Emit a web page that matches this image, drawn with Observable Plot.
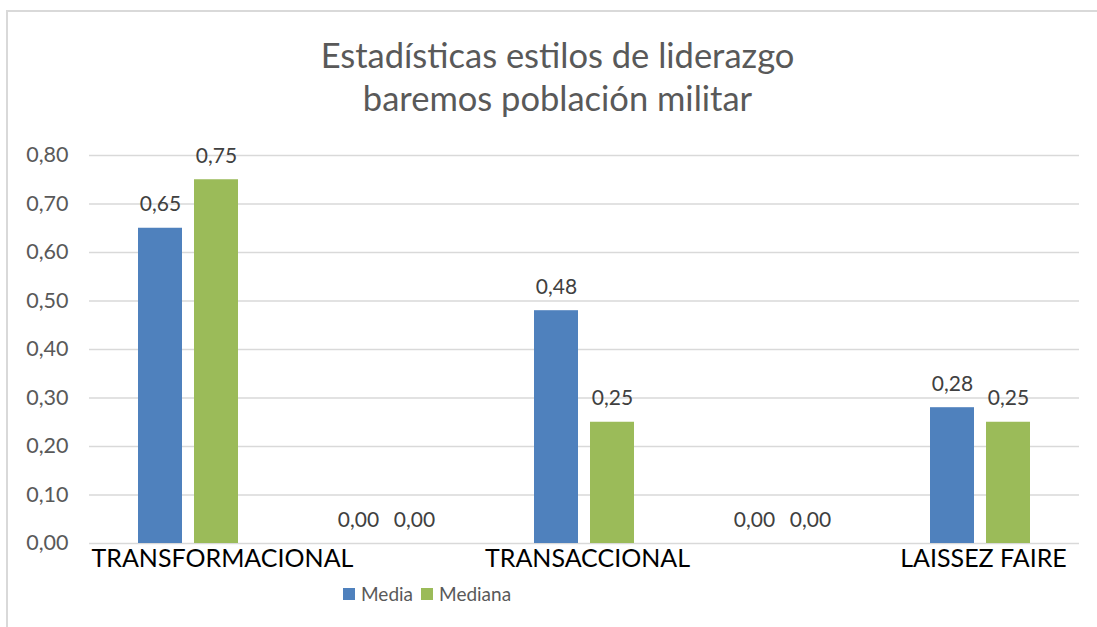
<!DOCTYPE html>
<html>
<head>
<meta charset="utf-8">
<script src="https://cdn.jsdelivr.net/npm/d3@7"></script>
<script src="https://cdn.jsdelivr.net/npm/@observablehq/plot@0.6"></script>
<style>
  html, body { margin: 0; padding: 0; background: #fff; }
  body { width: 1097px; height: 627px; overflow: hidden; position: relative; font-family: Lato, "Open Sans", sans-serif; }
  #frame { position: absolute; left: 6px; top: 10px; width: 1200px; height: 700px; border: 2px solid #d9d9d9; box-sizing: border-box; }
  #title { position: absolute; left: 18px; width: 1079px; top: 33px; text-align: center; color: #595959; font-size: 34.5px; line-height: 43px; }
  #chart { position: absolute; left: 0; top: 130px; }
  #legend { position: absolute; left: 343px; top: 582px; display: flex; align-items: center; color: #595959; font-size: 19px; }
  .sw { width: 12px; height: 12px; display: inline-block; margin-right: 6px; }
  .item { display: flex; align-items: center; margin-right: 8px; }
</style>
</head>
<body>
<div id="frame"></div>
<div id="title">Estadísticas estilos de liderazgo<br>baremos población militar</div>
<div id="chart"></div>
<div id="legend"></div>
<script>
const categories = ["TRANSFORMACIONAL", "", "TRANSACCIONAL", "", "LAISSEZ FAIRE"];
const media = [0.65, 0.00, 0.48, 0.00, 0.28];
const mediana = [0.75, 0.00, 0.25, 0.00, 0.25];
const series = ["Media", "Mediana"];
const colors = ["#4F81BD", "#9BBB59"];
const yTicks = [0, 0.1, 0.2, 0.3, 0.4, 0.5, 0.6, 0.7, 0.8];

const fmt = v => v.toFixed(2).replace(".", ",");

const data = categories.flatMap((c, i) => [
  {idx: i, cat: c, s: series[0], v: media[i]},
  {idx: i, cat: c, s: series[1], v: mediana[i]}
]);
const cats = categories.map((c, i) => ({idx: i, c}));

const chart = Plot.plot({
  width: 1097,
  height: 450,
  marginLeft: 88,
  marginRight: 17,
  marginTop: 25,
  marginBottom: 37,
  style: {fontFamily: "Lato, 'Open Sans', sans-serif", background: "transparent"},
  fx: {domain: d3.range(categories.length), padding: 0, axis: null},
  x: {domain: series, paddingInner: 12 / 57, paddingOuter: 0.846, axis: null},
  y: {domain: [0, 0.8], axis: null},
  color: {domain: series, range: colors},
  marks: [
    Plot.ruleY(yTicks, {stroke: "#d9d9d9", strokeWidth: 1.5}),
    Plot.axisY({ticks: yTicks, tickFormat: fmt, tickSize: 0, tickPadding: 21, fontSize: 21.5, fill: "#595959", label: null}),
    Plot.barY(data, {fx: "idx", x: "s", y: "v", fill: "s"}),
    Plot.text(data, {fx: "idx", x: "s", y: "v", text: d => fmt(d.v), lineAnchor: "bottom", dy: -17, fontSize: 21, fill: "#404040"}),
    Plot.text(cats.filter(d => d.idx === 0), {fx: "idx", text: "c", frameAnchor: "bottom-left", textAnchor: "start", dx: 2, lineAnchor: "middle", dy: 15, fontSize: 25, fill: "#000"}),
    Plot.text(cats.filter(d => d.idx !== 0), {fx: "idx", text: "c", frameAnchor: "bottom", lineAnchor: "middle", dy: 15, dx: 3, fontSize: 25, fill: "#000"})
  ]
});
document.getElementById("chart").appendChild(chart);

const legend = document.getElementById("legend");
series.forEach((s, i) => {
  const item = document.createElement("div");
  item.className = "item";
  const sw = document.createElement("span");
  sw.className = "sw";
  sw.style.background = colors[i];
  item.appendChild(sw);
  item.appendChild(document.createTextNode(s));
  legend.appendChild(item);
});
</script>
</body>
</html>
